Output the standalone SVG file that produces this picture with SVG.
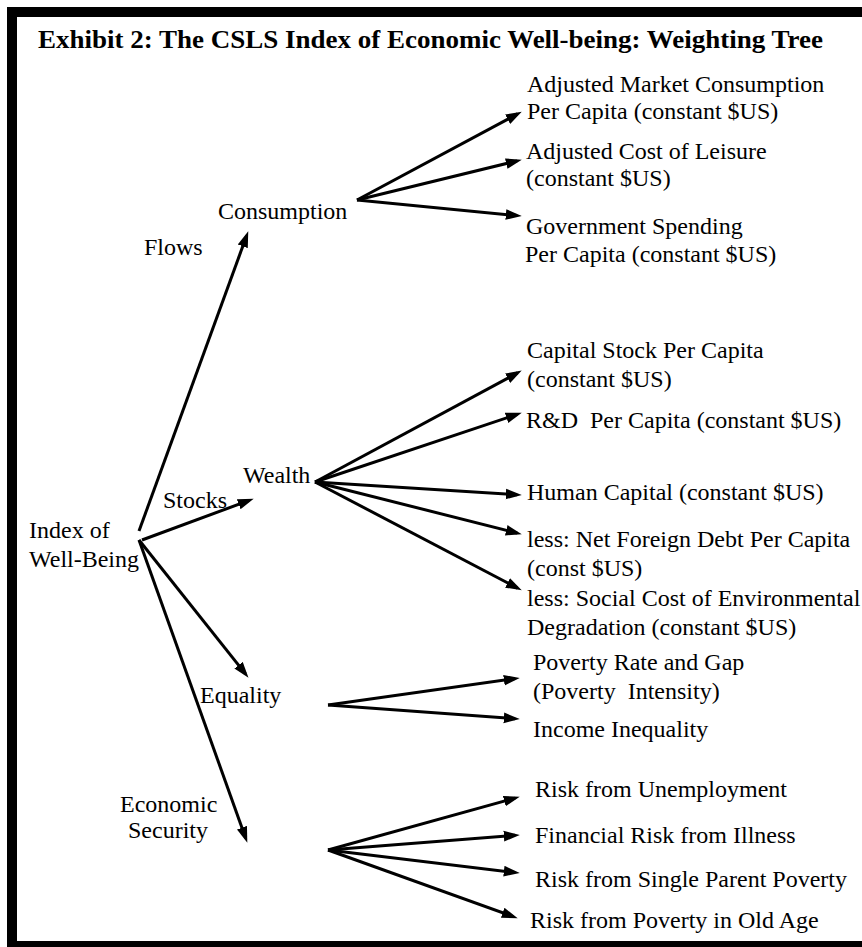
<svg xmlns="http://www.w3.org/2000/svg" width="862" height="947" viewBox="0 0 862 947" font-family="'Liberation Serif', Tinos, 'Times New Roman', 'DejaVu Serif', serif">
<style>
text{font-family:'Liberation Serif',Tinos,'Times New Roman','DejaVu Serif',serif;font-size:24px;fill:#000;white-space:pre}
.title{font-weight:bold;font-size:26px}
.c line{stroke:#000;stroke-width:3;marker-end:url(#ah)}
</style>
<defs>
<marker id="ah" markerUnits="userSpaceOnUse" markerWidth="16" markerHeight="12" viewBox="0 0 15 10" refX="10.5" refY="5" orient="auto">
<path d="M0,0 L15,5 L0,10 z" fill="#000"/>
</marker>
</defs>
<rect x="0" y="0" width="862" height="947" fill="#fff"/>
<rect x="12" y="12" width="880" height="934" fill="none" stroke="#000" stroke-width="10"/>
<text class="title" x="38" y="48" textLength="785" lengthAdjust="spacingAndGlyphs">Exhibit 2: The CSLS Index of Economic Well-being: Weighting Tree</text>
<g class="c" id="connectors">
<line x1="357" y1="200" x2="517.5" y2="113.9"/>
<line x1="357" y1="200" x2="517.1" y2="160.9"/>
<line x1="357" y1="200" x2="517.0" y2="215.6"/>
<line x1="139" y1="531" x2="246.6" y2="235.8"/>
<line x1="142" y1="540" x2="249.2" y2="500.4"/>
<line x1="139" y1="540" x2="245.5" y2="673.9"/>
<line x1="139" y1="540" x2="245.7" y2="838.2"/>
<line x1="315" y1="482" x2="517.5" y2="372.9"/>
<line x1="315" y1="482" x2="517.2" y2="414.3"/>
<line x1="315" y1="482" x2="517.0" y2="494.7"/>
<line x1="315" y1="482" x2="517.1" y2="533.0"/>
<line x1="315" y1="482" x2="517.5" y2="588.1"/>
<line x1="328" y1="705" x2="515.0" y2="678.6"/>
<line x1="328" y1="705" x2="515.0" y2="718.7"/>
<line x1="328" y1="850" x2="515.1" y2="798.1"/>
<line x1="328" y1="850" x2="515.0" y2="835.3"/>
<line x1="328" y1="850" x2="515.0" y2="872.5"/>
<line x1="328" y1="850" x2="513.2" y2="916.6"/>
</g>
<g id="index"><text x="29" y="538">Index of</text><text x="29" y="567">Well-Being</text></g>
<g id="flows"><text x="144" y="255">Flows</text></g>
<g id="stocks"><text x="163" y="508">Stocks</text></g>
<g id="consumption"><text x="218" y="219">Consumption</text></g>
<g id="wealth"><text x="243" y="483">Wealth</text></g>
<g id="equality"><text x="200" y="703">Equality</text></g>
<g id="security"><text x="120" y="812">Economic</text><text x="128" y="838">Security</text></g>
<g id="c1"><text x="527" y="92">Adjusted Market Consumption</text><text x="527" y="119">Per Capita (constant $US)</text></g>
<g id="c2"><text x="526" y="159">Adjusted Cost of Leisure</text><text x="526" y="186">(constant $US)</text></g>
<g id="c3"><text x="526" y="234">Government Spending</text><text x="525" y="262">Per Capita (constant $US)</text></g>
<g id="w1"><text x="527" y="358">Capital Stock Per Capita</text><text x="527" y="387">(constant $US)</text></g>
<g id="w2"><text x="526" y="428">R&amp;D  Per Capita (constant $US)</text></g>
<g id="w3"><text x="527" y="500">Human Capital (constant $US)</text></g>
<g id="w4"><text x="527" y="547">less: Net Foreign Debt Per Capita</text><text x="527" y="576">(const $US)</text></g>
<g id="w5"><text x="527" y="606">less: Social Cost of Environmental</text><text x="527" y="635">Degradation (constant $US)</text></g>
<g id="e1"><text x="533" y="670">Poverty Rate and Gap</text><text x="533" y="699">(Poverty  Intensity)</text></g>
<g id="e2"><text x="533" y="737">Income Inequality</text></g>
<g id="s1"><text x="535" y="797">Risk from Unemployment</text></g>
<g id="s2"><text x="535" y="843">Financial Risk from Illness</text></g>
<g id="s3"><text x="535" y="887">Risk from Single Parent Poverty</text></g>
<g id="s4"><text x="530" y="928">Risk from Poverty in Old Age</text></g>
</svg>
